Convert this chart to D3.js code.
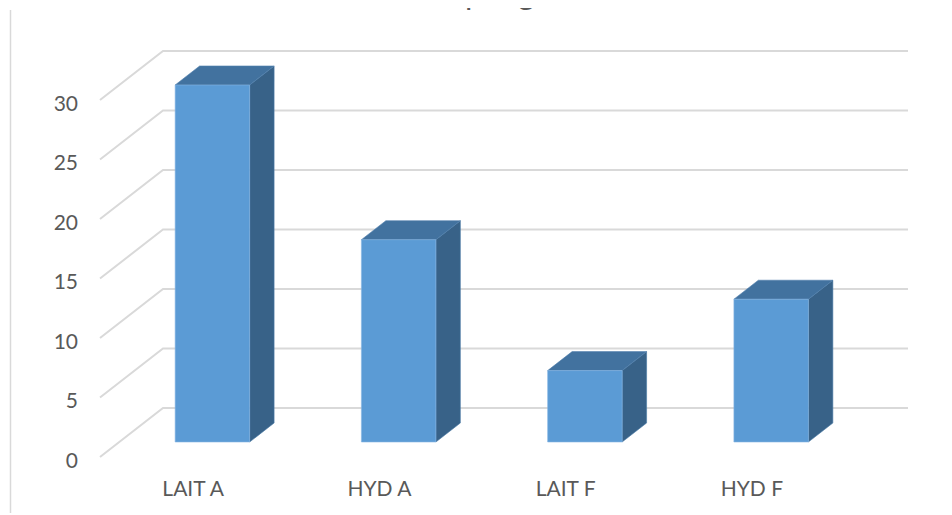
<!DOCTYPE html>
<html>
<head>
<meta charset="utf-8">
<script src="https://cdn.jsdelivr.net/npm/d3@7"></script>
<style>
  html, body { margin: 0; padding: 0; background: #ffffff; }
  svg { display: block; }
  text { font-family: Lato, "Open Sans", sans-serif; fill: #595959; }
</style>
</head>
<body>
<svg id="chart" width="952" height="515"></svg>
<script>
// ---- data ----
const categories = ["LAIT A", "HYD A", "LAIT F", "HYD F"];
const values = [30, 17, 6, 12];
const yTicks = [0, 5, 10, 15, 20, 25, 30];
const titleText = "Volume par gramme";

// ---- layout ----
const W = 952, H = 515;
const frontLeft = 100, frontRight = 845;   // front edge of the floor
const yBottom = 457, yTop = 100;            // front edge: value 0 .. 30
const depth = { dx: 63, dy: -49 };          // full depth of the 3D box
const barFront = 0.306, barBack = 0.694;    // bar depth inside the box

const svg = d3.select("#chart");

const x = d3.scaleBand()
  .domain(categories)
  .range([frontLeft, frontRight])
  .paddingInner(0.6)
  .paddingOuter(0.3);

const y = d3.scaleLinear()
  .domain([0, 30])
  .range([yBottom, yTop]);

// shift a point to a fraction t of the depth
const at = (px, py, t) => [px + depth.dx * t, py + depth.dy * t];

// chart area edge on the left
svg.append("line")
  .attr("x1", 10.5).attr("x2", 10.5)
  .attr("y1", 10).attr("y2", 513)
  .attr("stroke", "#d9d9d9").attr("stroke-width", 1.5);

// title: the chart frame only lets its lowest strip show
svg.append("clipPath").attr("id", "title-clip")
  .append("rect").attr("x", 0).attr("y", 8).attr("width", W).attr("height", 6);
const title = svg.append("text")
  .attr("clip-path", "url(#title-clip)")
  .attr("y", 4)
  .attr("font-size", 32)
  .text(titleText);
const prefixLen = title.node().getSubStringLength(0, titleText.indexOf("par"));
title.attr("x", 465 - prefixLen);

// gridlines: diagonal along the side wall, then across the back wall
const grid = svg.append("g").attr("fill", "none")
  .attr("stroke", "#d9d9d9").attr("stroke-width", 2);
yTicks.forEach(v => {
  const p0 = [frontLeft, y(v)];
  const p1 = at(frontLeft, y(v), 1);
  const p2 = at(frontRight, y(v), 1);
  grid.append("path").attr("d", d3.line()([p0, p1, p2]));
});

// value axis labels
svg.append("g").selectAll("text")
  .data(yTicks).join("text")
  .attr("x", 78)
  .attr("y", d => y(d) + 2)
  .attr("text-anchor", "end")
  .attr("dominant-baseline", "central")
  .attr("font-size", 21)
  .text(d => d);

// category labels
svg.append("g").selectAll("text")
  .data(categories).join("text")
  .attr("x", d => x(d) + x.bandwidth() / 2)
  .attr("y", 496)
  .attr("text-anchor", "middle")
  .attr("font-size", 21)
  .text(d => d);

// 3D bars
const bars = svg.append("g").selectAll("g")
  .data(categories.map((c, i) => ({ c, v: values[i] })))
  .join("g");

bars.each(function(d) {
  const g = d3.select(this);
  const x0 = x(d.c), x1 = x(d.c) + x.bandwidth();
  const yb = y(0), yt = y(d.v);
  const fbl = at(x0, yb, barFront), fbr = at(x1, yb, barFront);
  const ftl = at(x0, yt, barFront), ftr = at(x1, yt, barFront);
  const bbr = at(x1, yb, barBack);
  const btl = at(x0, yt, barBack), btr = at(x1, yt, barBack);
  const poly = pts => "M" + pts.map(p => p.join(",")).join("L") + "Z";

  // side face
  g.append("path").attr("d", poly([fbr, ftr, btr, bbr]))
    .attr("fill", "#386288").attr("stroke", "#4a7aa6").attr("stroke-width", 0.6);
  // top face
  g.append("path").attr("d", poly([ftl, btl, btr, ftr]))
    .attr("fill", "#42729f").attr("stroke", "#5080ad").attr("stroke-width", 0.6);
  // front face
  g.append("path").attr("d", poly([fbl, ftl, ftr, fbr]))
    .attr("fill", "#5b9bd5").attr("stroke", "#86b6e2").attr("stroke-width", 0.6);
});
</script>
</body>
</html>
